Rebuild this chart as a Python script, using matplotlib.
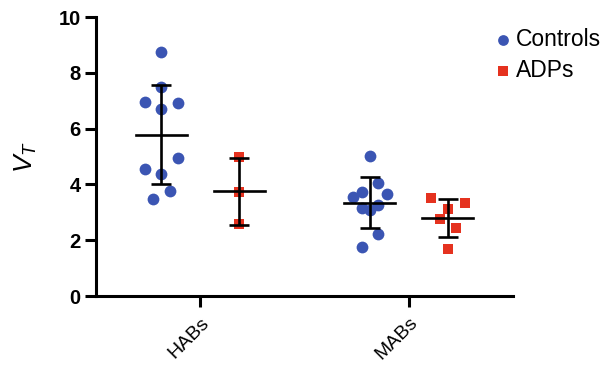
import numpy as np
import matplotlib.pyplot as plt

plt.rcParams['font.family'] = ['Liberation Sans', 'DejaVu Sans']
plt.rcParams['mathtext.fontset'] = 'custom'
plt.rcParams['mathtext.it'] = 'Liberation Sans:italic'
plt.rcParams['mathtext.rm'] = 'Liberation Sans'

groups = ["HABs", "MABs"]

# V_T values
habs_controls = [8.76, 7.48, 6.94, 6.91, 6.69, 4.96, 4.54, 4.37, 3.77, 3.48]
habs_adps = [4.98, 3.72, 2.58]
mabs_controls = [5.03, 4.04, 3.74, 3.54, 3.65, 3.25, 3.14, 3.08, 2.21, 1.75]
mabs_adps = [3.50, 3.34, 3.11, 2.75, 2.43, 1.67]

# horizontal scatter of points (swarm spread), in category units
habs_controls_dx = [0.0, 0.0, -0.08, 0.08, 0.0, 0.08, -0.08, 0.0, 0.04, -0.04]
habs_adps_dx = [0.0, 0.0, 0.0]
mabs_controls_dx = [0.0, 0.04, -0.04, -0.08, 0.08, 0.04, -0.04, 0.0, 0.04, -0.04]
mabs_adps_dx = [-0.08, 0.08, 0.0, -0.04, 0.04, 0.0]

blue = '#3b55b3'
red = '#e5321f'
offset = 0.187

fig = plt.figure(figsize=(6.08, 3.65), dpi=100)
ax = fig.add_axes([0.158, 0.189, 0.686, 0.764])

series = [
    (0, -offset, habs_controls, habs_controls_dx, blue, 'o'),
    (0, offset, habs_adps, habs_adps_dx, red, 's'),
    (1, -offset, mabs_controls, mabs_controls_dx, blue, 'o'),
    (1, offset, mabs_adps, mabs_adps_dx, red, 's'),
]

for gi, off, vals, dx, col, mk in series:
    vals = np.array(vals)
    xc = gi + off
    ax.scatter(xc + np.array(dx), vals, s=72 if mk == 'o' else 56, color=col,
               marker=mk, zorder=2, linewidths=0)
    m = vals.mean()
    sd = vals.std(ddof=1)
    ax.plot([xc - 0.122, xc + 0.122], [m, m], color='black', lw=1.9, zorder=3)
    ax.errorbar(xc, m, yerr=sd, color='black', lw=1.9, capsize=7,
                capthick=1.9, zorder=3)

ax.set_xlim(-0.5, 1.5)
ax.set_ylim(0, 10)
ax.set_yticks([0, 2, 4, 6, 8, 10])
ax.set_yticklabels(['0', '2', '4', '6', '8', '10'], fontsize=14.5, fontweight='bold')
ax.set_xticks([0, 1])
ax.set_xticklabels(groups, fontsize=14, rotation=45, ha='right',
                   rotation_mode='anchor')
ax.set_ylabel(r'$V_T$', fontsize=19, labelpad=14)

for side in ['top', 'right']:
    ax.spines[side].set_visible(False)
for side in ['left', 'bottom']:
    ax.spines[side].set_linewidth(2.2)
ax.tick_params(axis='both', width=2.2, length=8)
ax.tick_params(axis='y', pad=3)
ax.tick_params(axis='x', pad=5)

h1 = ax.scatter([], [], s=60, color=blue, marker='o', linewidths=0)
h2 = ax.scatter([], [], s=50, color=red, marker='s', linewidths=0)
fig.legend([h1, h2], ['Controls', 'ADPs'], loc='upper left',
           bbox_to_anchor=(0.775, 0.98), frameon=False, fontsize=16.5,
           handletextpad=0.05, labelspacing=0.35, handlelength=1.0)

fig.savefig('out.png', dpi=100, facecolor='white')
